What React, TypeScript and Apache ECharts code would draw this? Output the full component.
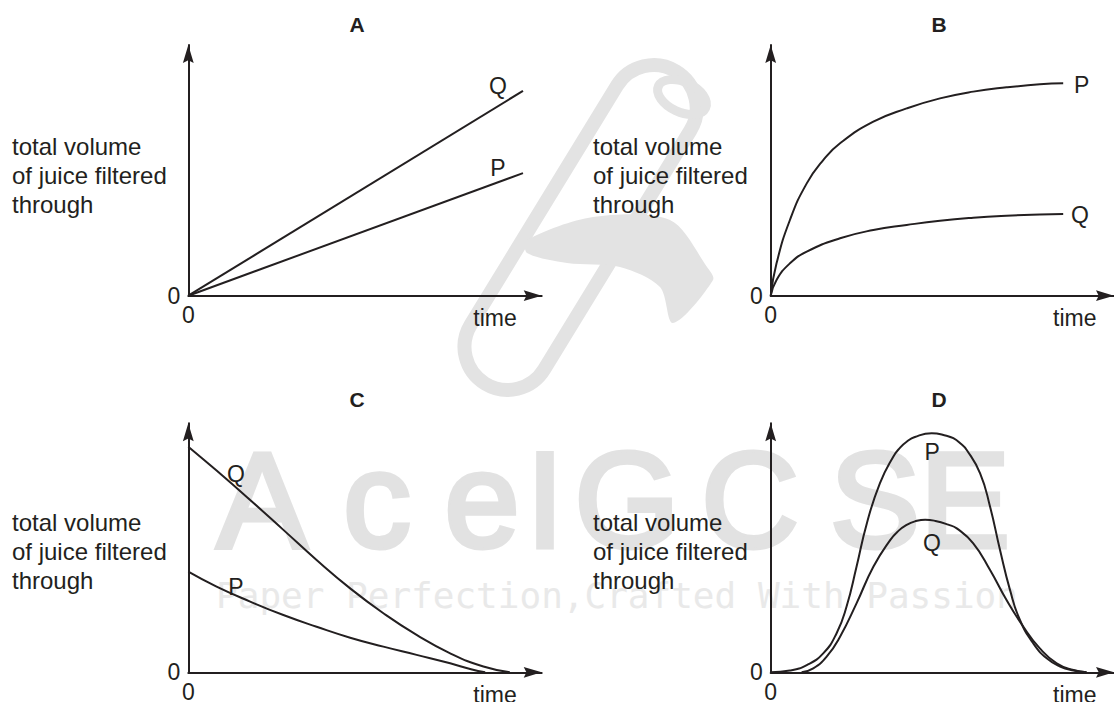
import React, { useEffect, useRef } from 'react';
import * as echarts from 'echarts';

// ---------------- data ----------------
const panelNames = ['A', 'B', 'C', 'D'];
const yAxisTitle = 'total volume\nof juice filtered\nthrough';
const xAxisTitle = 'time';
const originLabel = '0';

// A: straight lines from the origin
const aP: number[][] = [[0, 0], [9.47, 4.89]];
const aQ: number[][] = [[0, 0], [9.47, 8.17]];
const aLabels = [{ name: 'Q', value: [8.76, 8.38] }, { name: 'P', value: [8.76, 5.08] }];

// B: saturating curves
const bP: number[][] = [[0, 0], [0.17, 1.29], [0.56, 3.02], [1.05, 4.48], [1.53, 5.41], [2.02, 6.08], [2.99, 6.94], [3.96, 7.47], [4.93, 7.87], [5.9, 8.14], [6.87, 8.31], [7.84, 8.43], [8.52, 8.47]];
const bQ: number[][] = [[0, 0], [0.17, 0.63], [0.56, 1.29], [1.05, 1.76], [2.02, 2.29], [2.99, 2.62], [3.96, 2.82], [4.93, 2.99], [5.9, 3.11], [6.87, 3.19], [7.84, 3.24], [8.52, 3.26]];
const bLabels = [{ name: 'P', value: [9.06, 8.4] }, { name: 'Q', value: [9.01, 3.22] }];

// C: decreasing curves
const cQ: number[][] = [[0, 9.06], [0.8, 8.1], [1.75, 6.92], [2.69, 5.72], [3.63, 4.51], [4.58, 3.37], [5.52, 2.37], [6.46, 1.5], [7.41, 0.76], [8.35, 0.23], [9.1, 0]];
const cP: number[][] = [[0, 4.04], [0.8, 3.44], [1.75, 2.84], [2.69, 2.3], [3.63, 1.83], [4.58, 1.39], [5.52, 1.03], [6.46, 0.7], [7.41, 0.36], [8.0, 0.12], [8.4, 0]];
const cLabels = [{ name: 'Q', value: [1.35, 7.96] }, { name: 'P', value: [1.35, 3.43] }];

// D: bell shaped curves
const dP: number[][] = [[0, 0], [0.56, 0.07], [1.05, 0.29], [1.53, 0.76], [1.92, 1.57], [2.21, 2.64], [2.5, 4.24], [2.8, 5.98], [3.18, 7.59], [3.57, 8.66], [3.77, 9.02], [3.96, 9.26], [4.2, 9.45], [4.69, 9.6], [5.12, 9.5], [5.32, 9.4], [5.52, 9.2], [5.71, 8.93], [6.1, 7.99], [6.39, 6.65], [6.68, 4.91], [6.97, 3.31], [7.26, 2.1], [7.65, 1.16], [8.04, 0.56], [8.43, 0.23], [8.82, 0.07], [9.2, 0]];
const dQ: number[][] = [[0.9, 0], [1.24, 0.16], [1.63, 0.63], [2.02, 1.43], [2.5, 2.77], [2.99, 4.24], [3.48, 5.31], [3.72, 5.68], [3.96, 5.92], [4.2, 6.06], [4.5, 6.13], [4.8, 6.08], [5.17, 5.93], [5.42, 5.78], [5.9, 5.18], [6.39, 4.11], [6.87, 2.9], [7.36, 1.83], [7.84, 0.96], [8.33, 0.36], [8.82, 0.09], [9.2, 0]];
const dLabels = [{ name: 'P', value: [4.7, 8.85] }, { name: 'Q', value: [4.7, 5.18] }];

const panelSeries = [
  { P: aP, Q: aQ, labels: aLabels, smooth: false },
  { P: bP, Q: bQ, labels: bLabels, smooth: true },
  { P: cP, Q: cQ, labels: cLabels, smooth: true },
  { P: dP, Q: dQ, labels: dLabels, smooth: true },
];

// watermark texts
const watermarkLetters = ['A', 'c', 'e', 'I', 'G', 'C', 'S', 'E'];
const watermarkLine = 'Paper Perfection,Crafted With Passion';

// ---------------- layout / style ----------------
const FONT = "'Liberation Sans', Arial, Helvetica, sans-serif";
const INK = '#231f20';
const WM = '#e2e2e2';
const grids = [
  { left: 188.3, top: 45, width: 353.4, height: 250.7 },
  { left: 770.7, top: 45, width: 343.3, height: 250.7 },
  { left: 188.3, top: 423.3, width: 353.4, height: 249 },
  { left: 770.7, top: 423.3, width: 343.3, height: 249 },
];
const titlePos = [[357, 24], [939, 24], [357, 399], [939, 399]];
const yTitlePos = [[12, 131.5], [593, 131.5], [12, 508], [593, 508]];
const timeGap = [-25, -17.5, -25, -17.5];
const letterX = [262, 377, 482, 545, 627, 750, 875, 965];
const ARROW = 'path://M0,0 L6,20 L0,17 L-6,20 Z';

function buildOption() {
  const axisLine = {
    show: true,
    onZero: false,
    symbol: ['none', ARROW],
    symbolSize: [11, 18],
    symbolOffset: [0, -9],
    lineStyle: { color: INK, width: 2 },
  };
  const fmt = (v: number) => (v === 0 ? originLabel : '');
  const xAxis = grids.map((_, i) => ({
    type: 'value',
    gridIndex: i,
    min: 0,
    max: 10,
    interval: 10,
    axisLine,
    axisTick: { show: false },
    splitLine: { show: false },
    axisLabel: { show: true, margin: 8, formatter: fmt, color: INK, fontSize: 23, fontFamily: FONT },
    name: xAxisTitle,
    nameLocation: 'end',
    nameGap: timeGap[i],
    nameTextStyle: { color: INK, fontSize: 23, fontFamily: FONT, align: 'right', verticalAlign: 'top', padding: [11, 0, 0, 0] },
  }));
  const yAxis = grids.map((_, i) => ({
    type: 'value',
    gridIndex: i,
    min: 0,
    max: 10,
    interval: 10,
    axisLine,
    axisTick: { show: false },
    splitLine: { show: false },
    axisLabel: { show: true, margin: 8, formatter: fmt, color: INK, fontSize: 23, fontFamily: FONT },
  }));
  const series: any[] = [];
  panelSeries.forEach((p, i) => {
    (['P', 'Q'] as const).forEach((k) => {
      series.push({
        type: 'line',
        name: `${panelNames[i]}-${k}`,
        xAxisIndex: i,
        yAxisIndex: i,
        data: p[k],
        smooth: p.smooth,
        symbol: 'none',
        showSymbol: false,
        silent: true,
        lineStyle: { color: INK, width: 2 },
      });
    });
    series.push({
      type: 'scatter',
      xAxisIndex: i,
      yAxisIndex: i,
      data: p.labels,
      symbolSize: 0,
      silent: true,
      z: 5,
      itemStyle: { color: INK, opacity: 1 },
      label: {
        show: true,
        position: 'inside',
        formatter: '{b}',
        color: INK,
        opacity: 1,
        fontSize: 23,
        fontFamily: FONT,
        textBorderWidth: 0,
      },
    });
  });

  const graphics: any[] = [];
  // watermark scroll logo (faint)
  graphics.push({
    type: 'rect', x: 580.6, y: 227.5, rotation: (58.5 * Math.PI) / 180, z: -5, silent: true,
    shape: { x: -183, y: -43, width: 366, height: 86, r: 43 },
    style: { fill: 'none', stroke: '#e3e3e3', lineWidth: 14 },
  });
  graphics.push({
    type: 'polygon', z: -5, silent: true,
    shape: { points: [[527, 240], [593, 217], [670, 220], [707, 267], [713, 280], [673, 323], [660, 287], [620, 267], [567, 263], [527, 253]], smooth: 0.3 },
    style: { fill: '#e3e3e3' },
  });
  graphics.push({
    type: 'ellipse', x: 682, y: 97, rotation: (-25 * Math.PI) / 180, z: -5, silent: true,
    shape: { cx: 0, cy: 0, rx: 26, ry: 15 },
    style: { fill: 'none', stroke: '#e3e3e3', lineWidth: 9 },
  });
  watermarkLetters.forEach((t, i) => {
    graphics.push({
      type: 'text', x: letterX[i], y: 500, z: -5, silent: true,
      style: { text: t, fill: WM, stroke: WM, lineWidth: 5, fontSize: 135, fontFamily: FONT, align: 'center', verticalAlign: 'middle' },
    });
  });
  graphics.push({
    type: 'text', x: 617, y: 595, z: -5, silent: true,
    style: { text: watermarkLine, fill: '#e9e9e9', fontSize: 36, fontFamily: "'DejaVu Sans Mono', monospace", align: 'center', verticalAlign: 'middle' },
  });
  panelNames.forEach((t, i) => {
    graphics.push({
      type: 'text', x: titlePos[i][0], y: titlePos[i][1], z: 10, silent: true,
      style: { text: t, fill: INK, fontSize: 21, fontWeight: 'bold', fontFamily: FONT, align: 'center', verticalAlign: 'middle' },
    });
    graphics.push({
      type: 'text', x: yTitlePos[i][0], y: yTitlePos[i][1], z: 10, silent: true,
      style: { text: yAxisTitle, fill: INK, fontSize: 24, lineHeight: 29, fontFamily: FONT, align: 'left', verticalAlign: 'top' },
    });
  });

  return {
    animation: false,
    backgroundColor: '#ffffff',
    textStyle: { fontFamily: FONT },
    grid: grids.map((g) => ({ ...g, containLabel: false, outerBoundsMode: 'none' })),
    xAxis,
    yAxis,
    series,
    graphic: { elements: graphics },
  };
}

export default function App() {
  const ref = useRef<HTMLDivElement>(null);
  useEffect(() => {
    if (!ref.current) return;
    const chart = echarts.init(ref.current, undefined, { renderer: 'svg', width: 1114, height: 702 });
    chart.setOption(buildOption() as any);
    return () => chart.dispose();
  }, []);
  return (
    <div
      ref={ref}
      style={{ position: 'absolute', left: 0, top: 0, width: 1114, height: 702, background: '#fff' }}
    />
  );
}
